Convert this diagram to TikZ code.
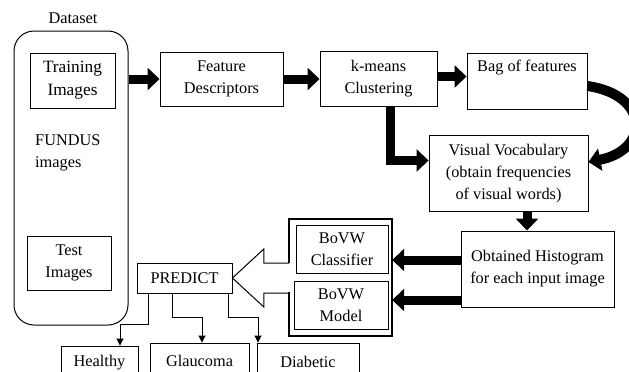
\documentclass[tikz,border=0pt]{standalone}
\usepackage{fontspec}
\setmainfont{Liberation Serif}
\usetikzlibrary{arrows.meta,calc,positioning}

\tikzset{
	box/.style={draw, line width=0.9pt, align=center, inner sep=2pt},
	fatarrow/.style={line width=9pt, -{Triangle[length=12pt,width=22pt]}},
	thinarrow/.style={line width=0.9pt, -{Triangle[length=7pt,width=7pt]}},
}

\begin{document}
\begin{tikzpicture}[x=1pt, y=-1pt, font=\fontsize{16.3}{22}\selectfont]
		\useasboundingbox (0,0) rectangle (629,372);
		\clip (0,0) rectangle (629,372);

		% Dataset
		\node[draw, line width=1pt, rounded corners=20pt, minimum width=114pt, minimum height=294pt] (dataset) at (71,178) {};
		\node (datalabel) at (73,18) {Dataset};
		\node[box, minimum width=85pt, minimum height=55pt, font=\fontsize{17.3}{23}\selectfont] (train) at (72.5,80.5) {Training\\Images};
		\node[align=left, anchor=west, inner sep=0pt] (fundus) at (35,153) {FUNDUS\\images};
		\node[box, minimum width=84pt, minimum height=54pt] (test) at (69,263) {Test\\Images};

		% Feature pipeline
		\node[box, minimum width=123pt, minimum height=54pt] (feat) at (221.5,79) {Feature\\Descriptors};
		\node[box, minimum width=117pt, minimum height=55pt] (kmeans) at (378.5,78.5) {k-means\\Clustering};
		\node[box, minimum width=120pt, minimum height=56pt,
			label={[anchor=north, yshift=-4pt]north:Bag of features}] (bag) at (527,81) {};
		\node[box, minimum width=159pt, minimum height=76pt] (vv) at (508.5,173.5) {Visual Vocabulary\\(obtain frequencies\\of visual words)};
		\node[box, minimum width=153pt, minimum height=76pt] (hist) at (537.5,269) {Obtained Histogram\\for each input image};

		% Classifier group
		\node[minimum width=103pt, minimum height=117pt] (outer) at (340.5,277.5) {};
		\node[box, minimum width=92pt, minimum height=48pt] (cls) at (342,249) {BoVW\\Classifier};
		\node[box, minimum width=94pt, minimum height=48pt] (mdl) at (341,305) {BoVW\\Model};
		\node[box, minimum width=95pt, minimum height=30pt] (predict) at (184.5,278) {PREDICT};

		% Outputs
		\node[box, minimum width=77pt, minimum height=34pt] (healthy) at (99.5,363) {Healthy};
		\node[box, minimum width=99pt, minimum height=36pt] (glaucoma) at (199.5,361) {Glaucoma};
		\node[box, minimum width=102pt, minimum height=38pt] (diabetic) at (308,362) {Diabetic};

		% Outer frame, open where the hollow arrow leaves it
		\draw[line width=1.8pt] ($(outer.west)+(0,-14.5)$) |- (outer.north east) |- (outer.south west) -- ($(outer.west)+(0,14.5)$);
		\draw[line width=1pt] ($(outer.west)+(0,-14.5)$) -- ++(-25,0) -- ++(0,-14) -- (predict.east)
			-- ($(outer.west)+(-25,29.5)$) -- ++(0,-14) -- ++(25,0);

		% Thick arrows
		\draw[fatarrow] (dataset.east |- feat.west) -- (feat.west);
		\draw[fatarrow] (feat.east) -- (kmeans.west |- feat.east);
		\draw[fatarrow] ([yshift=2pt]kmeans.east) -- ([yshift=2pt]bag.west |- kmeans.east);
		\draw[fatarrow] ([xshift=11.5pt]kmeans.south) |- ([yshift=13pt]vv.west);
		\draw[fatarrow, line width=10pt] ([yshift=-5pt]bag.east) .. controls (650,95) and (650,150) .. ([yshift=11.5pt]vv.east);
		\draw[fatarrow] ([xshift=18.5pt]vv.south) -- ([xshift=18.5pt]vv.south |- hist.north);
		\draw[fatarrow] ($(hist.west)+(0,-9)$) -- ($(outer.east |- hist.west)+(0,-9)$);
		\draw[fatarrow] ($(hist.west)+(0,31)$) -- ($(outer.east |- hist.west)+(0,31)$);

		% Predictions
		\draw[thinarrow] ([xshift=-36.5pt]predict.south) -- ++(0,31) -| ([xshift=20.5pt]healthy.north);
		\draw[thinarrow] ([xshift=-12.5pt]predict.south) -- ++(0,24) -| ([xshift=2.5pt]glaucoma.north);
		\draw[thinarrow] ([xshift=43.5pt]predict.south) -- ++(0,24) -| ([xshift=-50pt]diabetic.north);
	\end{tikzpicture}
\end{document}
